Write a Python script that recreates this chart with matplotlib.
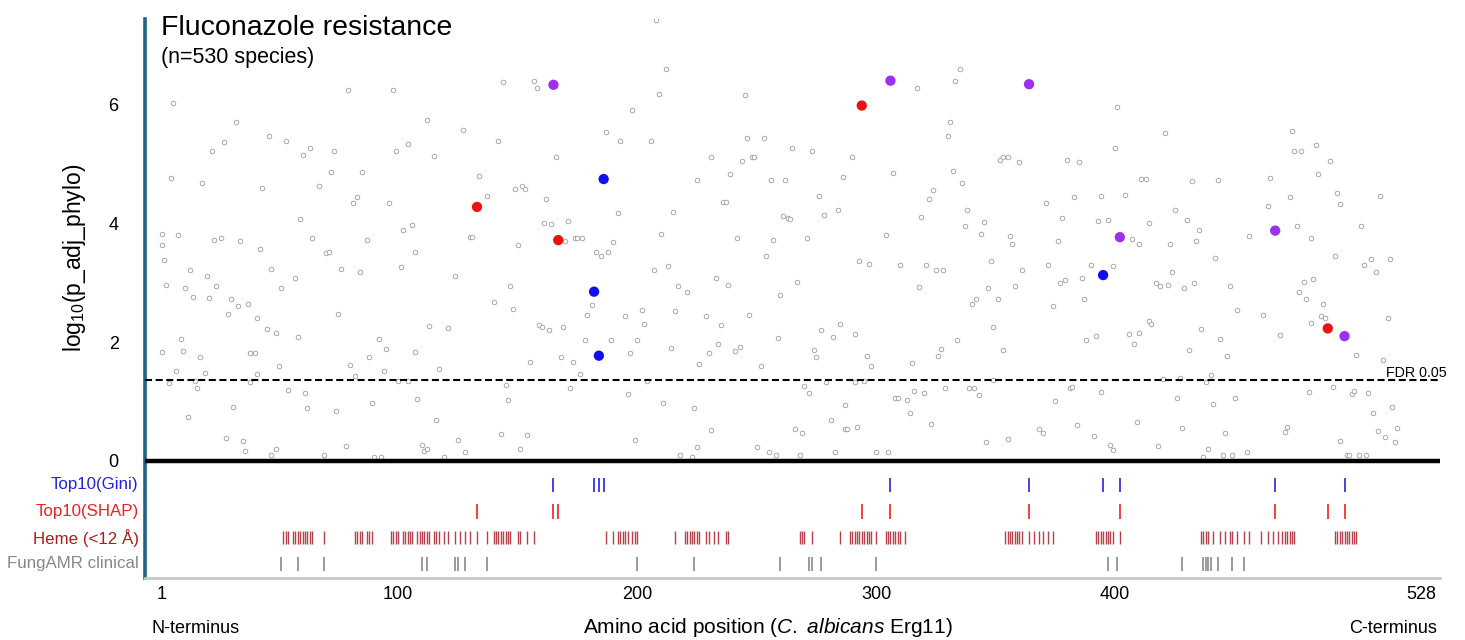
import matplotlib
matplotlib.use("Agg")
import matplotlib.pyplot as plt
import matplotlib.transforms as mtransforms

plt.rcParams['font.family'] = ['Liberation Sans', 'DejaVu Sans']
plt.rcParams['mathtext.fontset'] = 'custom'
plt.rcParams['mathtext.rm'] = 'Liberation Sans'
plt.rcParams['mathtext.it'] = 'Liberation Sans:italic'

# all positions (grey open circles): amino-acid position, -log10 p
bg_pos = [6, 32, 79, 98, 46, 53, 27, 22, 60, 63, 73, 99, 104, 112, 115, 127,
          5, 18, 43, 72, 85, 67, 83, 81, 96, 59,
          1, 1, 2, 8, 3, 23, 26, 34, 42, 64, 70, 71, 87, 102, 106, 107, 101, 130, 131,
          13, 20, 11, 14, 21, 24, 30, 33, 37, 29, 47, 51, 57, 76, 84, 75, 41, 45, 49, 58, 124, 113, 121, 9,
          1, 10, 17, 7, 19, 38, 40, 41, 50, 80, 82, 88, 92, 95, 94, 107, 117,
          4, 15, 16, 38, 54, 61, 62, 74, 89, 100, 104, 108, 116, 12, 31, 28, 35, 36, 47, 49, 69, 78, 90, 93,
          110, 111, 112, 119, 125, 128,
          144, 157, 158, 208, 212, 209, 198, 245, 187, 193, 206, 142, 166, 231, 246, 253, 265, 244, 248, 249,
          134, 149, 152, 153, 137, 162, 225, 239, 256, 262, 236, 237, 192, 215, 161, 164, 171, 261, 263, 264,
          170, 174, 175, 177, 190, 183, 185, 188, 150, 210, 242, 257, 254, 207, 213, 233, 238, 267, 147, 217, 221, 260,
          140, 148, 181, 179, 195, 202, 203, 216, 229, 235, 247, 159, 160, 163, 169, 178, 189, 200, 234, 243, 241,
          259, 214, 197, 230, 226, 252, 155, 168, 173, 176,
          145, 146, 172, 196, 204, 211, 224, 231, 266, 143, 154, 151, 199, 218, 223, 225, 250, 255, 258, 268,
          335, 333, 317, 401, 331, 330, 400, 273, 290, 352, 353, 355, 360, 380, 385, 286, 307, 332, 336, 276,
          324, 322, 394, 404, 371, 383,
          278, 284, 319, 338, 345, 378, 393, 397, 271, 304, 337, 344, 356, 357, 376,
          293, 297, 310, 321, 325, 328, 348, 361, 372, 390, 399, 318, 347, 358, 377, 379, 386, 340, 342, 351, 374, 387,
          285, 277, 282, 291, 349, 334, 388, 392, 274, 275, 296, 298, 315, 327, 326, 353,
          270, 272, 279, 291, 295, 308, 309, 313, 316, 320, 329, 339, 341, 343, 349, 381, 382, 394, 287, 375,
          314, 281, 287, 288, 292, 323, 368, 370, 384, 391, 346, 355, 398, 399, 269, 283, 300, 305,
          421, 474, 475, 478, 484, 490, 485, 411, 413, 432, 443, 465, 473, 493, 494, 511, 464, 425, 414, 430,
          435, 476, 503, 407, 410, 423, 434, 456, 482, 442, 492, 504, 507, 515, 509, 424, 417, 419, 422, 429,
          433, 448, 479, 483, 477, 480, 487, 486, 488, 482, 514, 451, 462, 414, 415, 406, 410, 408, 436, 444,
          469, 431, 447, 501, 512, 420, 427, 440, 438, 426, 441, 450, 409, 428, 446, 418, 439, 437, 445, 449,
          455, 471, 472, 481, 491, 499, 500, 506, 508, 516, 518, 510, 513, 517, 494, 497, 498, 502, 505]
bg_val = [6.03, 5.72, 6.25, 6.26, 5.48, 5.40, 5.37, 5.22, 5.15, 5.27, 5.23, 5.23, 5.34, 5.74, 5.14, 5.58,
          4.77, 4.68, 4.60, 4.87, 4.87, 4.64, 4.45, 4.35, 4.35, 4.07,
          3.83, 3.63, 3.39, 3.80, 2.96, 3.73, 3.76, 3.71, 3.57, 3.76, 3.50, 3.52, 3.73, 3.89, 3.97, 3.52, 3.26, 3.77, 3.77,
          3.21, 3.12, 2.91, 2.76, 2.74, 2.94, 2.73, 2.60, 2.64, 2.48, 3.23, 2.91, 3.08, 3.23, 3.19, 2.48, 2.41, 2.22, 2.15, 2.09, 3.11, 2.27, 2.23, 2.06,
          1.83, 1.85, 1.74, 1.52, 1.47, 1.82, 1.82, 1.46, 1.60, 1.61, 1.43, 1.75, 2.06, 1.88, 1.52, 1.84, 1.54,
          1.31, 1.34, 1.22, 1.33, 1.19, 1.14, 0.88, 0.84, 0.97, 1.34, 1.35, 1.04, 0.68, 0.73, 0.91, 0.38, 0.33, 0.17, 0.10, 0.20, 0.09, 0.24, 0.06, 0.06,
          0.26, 0.16, 0.19, 0.06, 0.35, 0.15,
          6.39, 6.40, 6.28, 7.43, 6.61, 6.18, 5.91, 6.16, 5.54, 5.40, 5.40, 5.40, 5.12, 5.13, 5.44, 5.44, 5.27, 5.05, 5.12, 5.12,
          4.80, 4.59, 4.64, 4.59, 4.46, 4.42, 4.74, 4.83, 4.74, 4.74, 4.37, 4.36, 4.17, 4.19, 4.01, 3.99, 4.05, 4.12, 4.09, 4.07,
          3.70, 3.76, 3.76, 3.76, 3.69, 3.52, 3.46, 3.52, 3.64, 3.83, 3.76, 3.72, 3.46, 3.21, 3.29, 3.08, 2.96, 3.01, 2.95, 2.95, 2.84, 2.79,
          2.67, 2.56, 2.63, 2.45, 2.44, 2.54, 2.31, 2.53, 2.44, 2.28, 2.46, 2.29, 2.26, 2.20, 2.26, 2.04, 2.03, 2.04, 1.97, 1.92, 1.85,
          2.07, 1.90, 1.81, 1.81, 1.63, 1.60, 1.66, 1.75, 1.67, 1.46,
          1.28, 1.02, 1.23, 1.13, 1.35, 0.98, 0.88, 0.52, 0.53, 0.45, 0.43, 0.20, 0.34, 0.09, 0.06, 0.23, 0.23, 0.14, 0.09, 0.09,
          6.61, 6.40, 6.28, 5.96, 5.72, 5.47, 5.27, 5.23, 5.12, 5.07, 5.12, 5.12, 5.03, 5.07, 5.04, 4.78, 4.86, 4.89, 4.68, 4.46,
          4.56, 4.42, 4.47, 4.48, 4.35, 4.45,
          4.14, 4.22, 4.11, 4.22, 4.02, 4.10, 4.04, 4.06, 3.76, 3.81, 3.95, 3.82, 3.79, 3.65, 3.71,
          3.37, 3.32, 3.30, 3.30, 3.22, 3.22, 3.36, 3.22, 3.30, 3.30, 3.29, 2.93, 2.91, 2.94, 2.99, 3.05, 3.08, 2.65, 2.73, 2.73, 2.61, 2.73,
          2.30, 2.20, 2.08, 2.13, 2.25, 2.04, 2.03, 2.10, 1.86, 1.74, 1.76, 1.59, 1.65, 1.89, 1.77, 1.86,
          1.26, 1.14, 1.33, 1.33, 1.35, 1.05, 1.05, 1.03, 1.18, 1.14, 1.22, 1.23, 1.23, 1.10, 1.36, 1.22, 1.24, 1.16, 0.94, 1.00,
          0.80, 0.68, 0.53, 0.54, 0.57, 0.62, 0.53, 0.46, 0.60, 0.42, 0.31, 0.36, 0.27, 0.18, 0.46, 0.14, 0.15, 0.15,
          5.53, 5.56, 5.22, 5.22, 5.32, 5.05, 4.84, 4.75, 4.75, 4.71, 4.74, 4.76, 4.45, 4.51, 4.33, 4.46, 4.29, 4.23, 4.01, 4.06,
          3.89, 3.96, 3.95, 3.74, 3.66, 3.66, 3.71, 3.79, 3.76, 3.41, 3.46, 3.30, 3.40, 3.40, 3.18, 3.19, 2.99, 2.94, 2.96, 2.91,
          2.99, 2.95, 3.01, 3.06, 2.85, 2.73, 2.64, 2.44, 2.41, 2.32, 2.41, 2.54, 2.45, 2.36, 2.31, 2.13, 2.15, 1.97, 2.22, 2.05,
          2.12, 1.87, 1.77, 1.79, 1.69, 1.37, 1.40, 1.44, 1.32, 1.05, 0.95, 1.05, 0.65, 0.55, 0.46, 0.25, 0.20, 0.06, 0.09, 0.09,
          0.15, 0.48, 0.57, 1.15, 1.24, 1.12, 1.17, 1.14, 0.80, 0.91, 0.55, 0.50, 0.40, 0.32, 0.33, 0.10, 0.10, 0.10, 0.10]

# highlighted sites
top_pos = [133, 165, 167, 182, 184, 186, 294, 306, 364, 395, 402, 467, 489, 496]
top_val = [4.28, 6.34, 3.72, 2.85, 1.77, 4.75, 5.99, 6.41, 6.35, 3.13, 3.77, 3.88, 2.23, 2.10]

gini_top10 = [165, 182, 184, 186, 306, 364, 395, 402, 467, 496]
shap_top10 = [133, 165, 167, 294, 306, 364, 402, 467, 489, 496]
heme_sites = [52, 53, 54, 56, 57, 58, 59, 60, 61, 62, 63, 64, 69, 82, 83, 84, 85, 87, 88, 89,
              97, 98, 99, 100, 102, 103, 104, 105, 106, 108, 109, 110, 111, 112, 113, 115, 116, 117,
              119, 121, 124, 126, 128, 130, 133, 137, 140, 141, 142, 143, 144, 145, 146, 147, 150, 151,
              154, 157, 187, 190, 192, 193, 194, 195, 196, 198, 199, 200, 216, 220, 221, 222, 223, 224,
              225, 226, 229, 230, 232, 234, 237, 238, 268, 269, 270, 273, 285, 289, 290, 291, 292, 293,
              294, 295, 296, 297, 298, 300, 304, 305, 306, 307, 308, 309, 310, 312, 354, 355, 356, 357,
              358, 359, 360, 361, 364, 366, 368, 370, 372, 374, 392, 393, 394, 395, 396, 397, 398, 399,
              402, 436, 437, 438, 439, 441, 444, 446, 448, 449, 451, 454, 456, 461, 464, 466, 468, 470,
              471, 472, 473, 474, 475, 492, 493, 494, 495, 496, 497, 498, 499, 500, 501]
fungamr_sites = [51, 58, 69, 110, 112, 124, 125, 128, 137, 200, 224, 260, 272, 273, 277, 300,
                 397, 401, 428, 437, 438, 439, 440, 443, 449, 454]

fdr_cut = 1.36
track_names = ["Top10(Gini)", "Top10(SHAP)", "Heme (<12 Å)", "FungAMR clinical"]
track_label_colors = ["#2323dd", "#ee2222", "#b01c1c", "#888888"]
track_tick_colors = ["#3535e6", "#ee3333", "#b8404a", "#808080"]
track_rows = [-0.41, -0.86, -1.30, -1.74]
xtick_pos = [1, 100, 200, 300, 400, 528]


def point_color(p):
    if p in gini_top10 and p in shap_top10:
        return "#9b30ee"
    if p in gini_top10:
        return "#1010ee"
    return "#ee1111"


fig = plt.figure(figsize=(14.65, 6.4), dpi=100)
ax = fig.add_axes([0.099, 0.0969, 0.884, 0.8734])

ax.scatter(bg_pos, bg_val, s=11, facecolors="white", edgecolors="#9c9c9c", linewidths=0.6, zorder=2)
ax.scatter(top_pos, top_val, s=55, c=[point_color(p) for p in top_pos], edgecolors="none", zorder=4)

ax.axhline(0, color="black", lw=3.2, zorder=3)
ax.axhline(fdr_cut, color="black", lw=1.5, linestyle=(0, (3.4, 1.7)), zorder=3)

track_sets = [gini_top10, shap_top10, heme_sites, fungamr_sites]
half_h = [0.12, 0.12, 0.105, 0.12]
track_lw = [1.3, 1.3, 1.0, 1.1]
trans = mtransforms.blended_transform_factory(ax.transAxes, ax.transData)
for sites, row, h, col, lcol, name, lw in zip(track_sets, track_rows, half_h, track_tick_colors,
                                               track_label_colors, track_names, track_lw):
    ax.vlines(sites, row - h, row + h, colors=col, lw=lw)
    ax.text(-0.005, row, name, transform=trans, ha="right", va="center", color=lcol, fontsize=12.2)

ax.text(1.0054, fdr_cut + 0.05, "FDR 0.05", transform=trans, ha="right", va="baseline",
        fontsize=10.3, clip_on=False)

ax.set_xlim(-5.9, 536)
ax.set_ylim(-1.98, 7.45)
ax.set_xticks(xtick_pos)
ax.set_yticks([0, 2, 4, 6])
ax.tick_params(axis="y", length=0, pad=19, labelsize=13)
ax.tick_params(axis="x", length=0, pad=6, labelsize=13)

for s in ["top", "right"]:
    ax.spines[s].set_visible(False)
ax.spines["left"].set_color("#1e6488")
ax.spines["left"].set_linewidth(2.6)
ax.spines["bottom"].set_color("#c8c8c8")
ax.spines["bottom"].set_linewidth(2)

fig.text(0.051, 0.597, r"log$_{10}$(p_adj_phylo)", rotation=90, ha="center", va="center", fontsize=16.5)
fig.text(0.1099, 0.946, "Fluconazole resistance", fontsize=20.5, va="baseline")
fig.text(0.1099, 0.9016, "(n=530 species)", fontsize=15.5, va="baseline")
fig.text(0.5242, 0.0109, r"Amino acid position ($\it{C.\ albicans}$ Erg11)", ha="center",
         va="baseline", fontsize=15)
fig.text(0.1037, 0.0109, "N-terminus", fontsize=13, va="baseline")
fig.text(0.981, 0.0109, "C-terminus", fontsize=13, va="baseline", ha="right")

fig.savefig("out.png", dpi=100)
